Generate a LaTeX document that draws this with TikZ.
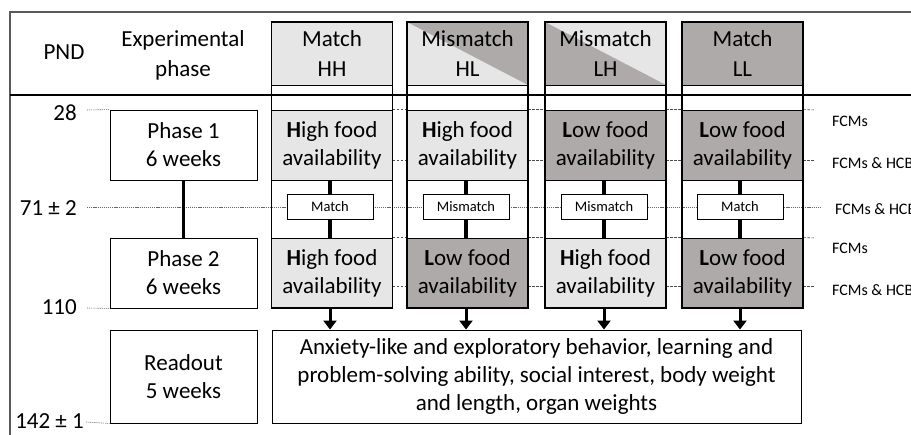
\documentclass[tikz,border=0pt]{standalone}
\usepackage{fontspec}
\setmainfont{Carlito}
\usetikzlibrary{arrows.meta}
\definecolor{lgray}{HTML}{E7E6E6}
\definecolor{dgray}{HTML}{AEAAAA}
\definecolor{framegray}{HTML}{595959}
\begin{document}
\begin{tikzpicture}[x=1pt,y=-1pt,
 txt/.style={font=\fontsize{23}{28}\selectfont, align=center},
 htxt/.style={font=\fontsize{23}{30}\selectfont, align=center},
 box/.style={draw, line width=0.9pt, inner sep=0pt, minimum width=147pt, minimum height=70pt, txt},
 food/.style={draw, line width=0.9pt, inner sep=0pt, minimum width=121pt, minimum height=70pt, txt},
 hi/.style={food, fill=lgray},
 lo/.style={food, fill=dgray},
 head/.style={draw, line width=0.9pt, inner sep=0pt, minimum width=121pt, minimum height=63pt, htxt},
 col/.style={draw, line width=1.8pt, inner sep=0pt, minimum width=121pt, minimum height=286pt},
 small/.style={draw, fill=white, line width=0.8pt, minimum width=86pt, minimum height=25pt, inner sep=0pt, font=\fontsize{14.5}{16}\selectfont},
 lab/.style={font=\fontsize{16}{18}\selectfont, anchor=west, inner sep=0pt},
 num/.style={font=\fontsize{23}{28}\selectfont, anchor=east, inner sep=0pt},
 dsh/.style={line width=0.6pt, black!70, dash pattern=on 2.5pt off 1.5pt},
 dtt/.style={line width=0.6pt, black!60, dash pattern=on 1.2pt off 0.9pt},
 vconn/.style={line width=3.6pt},
 arr/.style={line width=3pt, -{Triangle[length=9pt,width=13pt]}}
]
\useasboundingbox (0,0) rectangle (911,435);
% frame
\draw[framegray, line width=1.4pt] (10,435) -- (10,12) -- (911,12);
\draw[line width=1.2pt] (10,95) -- (911,95);

% header labels
\node[htxt] (pnd) at (64,52) {PND};
\node[htxt] (exp) at (183,55) {Experimental\\phase};

% left phase boxes
\node[box] (p1) at (183.5,145) {Phase 1\\6 weeks};
\node[box] (p2) at (183.5,273) {Phase 2\\6 weeks};
\node[box, minimum height=93pt] (p3) at (183.5,376.5) {Readout\\5 weeks};

% PND numbers
\node[num] (n28) at (77,113) {28};
\node[num] (n71) at (77,208) {71 ± 2};
\node[num] (n110) at (77,307) {110};
\node[num] (n142) at (84,421) {142 ± 1};
\coordinate (c28) at (87,110);
\coordinate (c71) at (87,207);
\coordinate (c110) at (87,308);
\coordinate (c142) at (86,422);
\coordinate (cend) at (820,207);
\draw[dtt] (c28) -- (p1.north west);
\draw[dtt] (c110) -- (p2.south west);
\draw[dtt] (c142) -- (p3.south west);
\draw[dtt] (c71) -- (cend);

% headers
\node[head, fill=lgray] (hA) at (332,53.5) {Match\\HH};
\node[head, fill=lgray, path picture={\fill[dgray] (path picture bounding box.north west) -- (path picture bounding box.north east) -- (path picture bounding box.south east) -- cycle;}] (hB) at (467.5,53.5) {Mismatch\\HL};
\node[head, fill=lgray, path picture={\fill[dgray] (path picture bounding box.north west) -- (path picture bounding box.south west) -- (path picture bounding box.south east) -- cycle;}] (hC) at (605.5,53.5) {Mismatch\\LH};
\node[head, fill=dgray] (hD) at (742.5,53.5) {Match\\LL};

% food boxes
\node[hi] (fA1) at (332,145) {\textbf{H}igh food\\availability};
\node[hi] (fB1) at (467.5,145) {\textbf{H}igh food\\availability};
\node[lo] (fC1) at (605.5,145) {\textbf{L}ow food\\availability};
\node[lo] (fD1) at (742.5,145) {\textbf{L}ow food\\availability};
\node[hi] (fA2) at (332,273) {\textbf{H}igh food\\availability};
\node[lo] (fB2) at (467.5,273) {\textbf{L}ow food\\availability};
\node[hi] (fC2) at (605.5,273) {\textbf{H}igh food\\availability};
\node[lo] (fD2) at (742.5,273) {\textbf{L}ow food\\availability};

% small match boxes
\node[small] (mA) at (330,207) {Match};
\node[small] (mB) at (466,207) {Mismatch};
\node[small] (mC) at (604,207) {Mismatch};
\node[small] (mD) at (740,207) {Match};

% vertical connectors
\draw[vconn] (p1) -- (p2);
\foreach \c in {A,B,C,D}{
  \draw[vconn] (f\c1.south -| m\c) -- (m\c.north);
  \draw[vconn] (m\c.south) -- (f\c2.north -| m\c);
}

% dashes between columns
\foreach \a/\b in {A/B,B/C,C/D}{
  \draw[dsh] (f\a1.north east) -- (f\b1.north west);
  \draw[dsh] ([yshift=-15pt]f\a1.east) -- ([yshift=-15pt]f\b1.west);
  \draw[dsh] (f\a2.north east) -- (f\b2.north west);
  \draw[dsh] ([yshift=-13pt]f\a2.east) -- ([yshift=-13pt]f\b2.west);
}
\coordinate (r1) at (815,110);
\coordinate (r2) at (815,160);
\coordinate (r3) at (815,238);
\coordinate (r4) at (815,286);
\draw[dsh] (fD1.north east) -- (r1);
\draw[dsh] ([yshift=-15pt]fD1.east) -- (r2);
\draw[dsh] (fD2.north east) -- (r3);
\draw[dsh] ([yshift=-13pt]fD2.east) -- (r4);

% right labels
\node[lab] (l1) at (832,121) {FCMs};
\node[lab] (l2) at (832,163) {FCMs \& HCB};
\node[lab] (l3) at (835,209) {FCMs \& HCB};
\node[lab] (l4) at (832,248) {FCMs};
\node[lab] (l5) at (832,290) {FCMs \& HCB};

% column outlines
\node[col] (cA) at (332,165) {};
\node[col] (cB) at (467.5,165) {};
\node[col] (cC) at (605.5,165) {};
\node[col] (cD) at (742.5,165) {};

% readout
\node[draw, line width=0.9pt, minimum width=529pt, minimum height=93pt, inner sep=0pt, txt] (ro) at (536.5,376.5)
 {Anxiety-like and exploratory behavior, learning and\\problem-solving ability, social interest, body weight\\and length, organ weights};
\foreach \c in {A,B,C,D}{
  \draw[arr] (f\c2.south -| m\c) -- (ro.north -| m\c);
}
\end{tikzpicture}
\end{document}
